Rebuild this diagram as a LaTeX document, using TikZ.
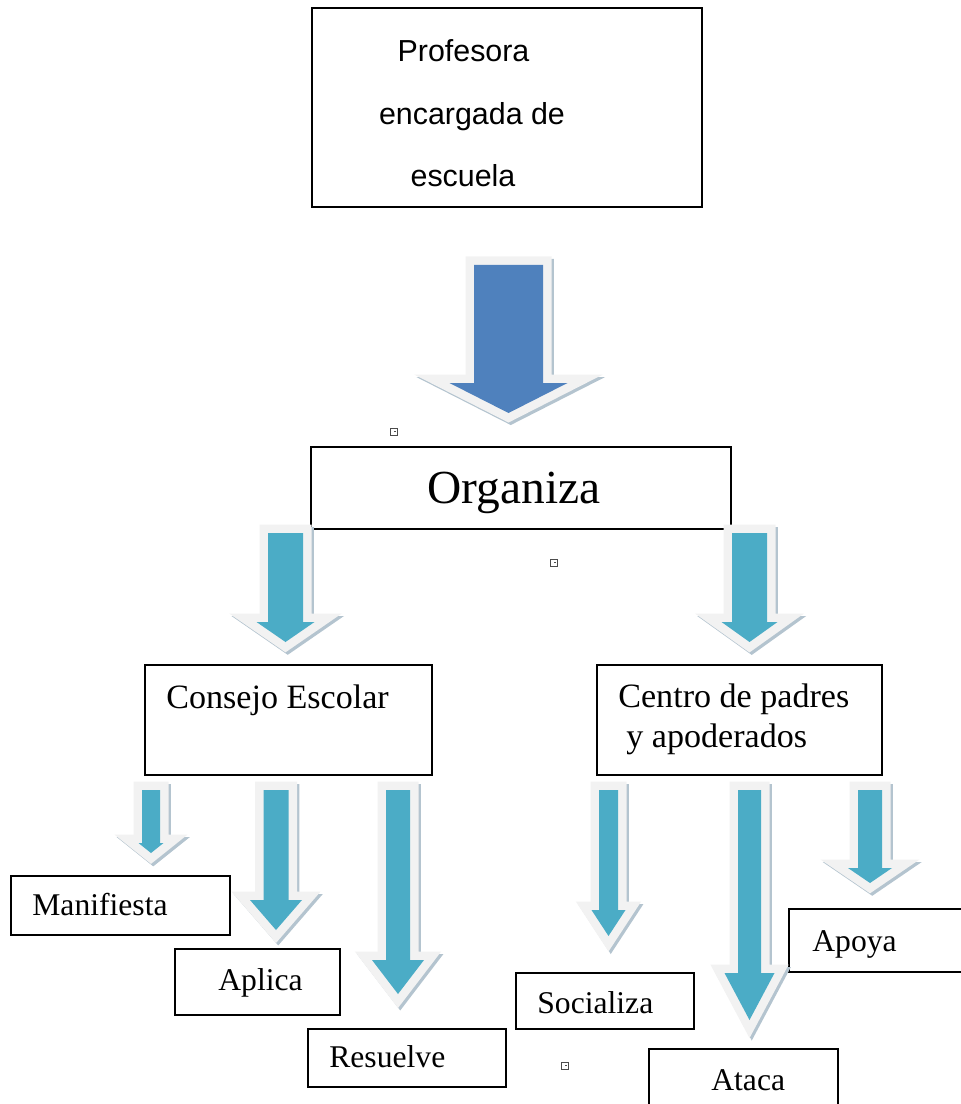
\documentclass[tikz,border=0pt]{standalone}
\usepackage{fontspec}
\setmainfont{Liberation Serif}
\newfontfamily\arialfont{Liberation Sans}
\usepackage{xcolor}
\usepackage{tikz}
\usetikzlibrary{positioning,calc,fit}

\definecolor{bigblue}{HTML}{4F81BD}
\definecolor{tealblue}{HTML}{4BACC6}
\definecolor{rimgray}{HTML}{F2F2F2}
\definecolor{shadowc}{HTML}{B4C4CF}

% block arrow: centre x, top y, shaft half width, head y, head half width, tip y, colour
\newcommand{\blockarrow}[7]{%
  \path[fill=#7,
    preaction={draw=shadowc, fill=shadowc, line width=0.34cm, line join=miter,
      transform canvas={shift={(0.045cm,-0.05cm)}}},
    preaction={draw=rimgray, line width=0.34cm, line join=miter}]
    (#1-#3,#2) -- (#1+#3,#2) -- (#1+#3,#4) -- (#1+#5,#4) -- (#1,#6)
    -- (#1-#5,#4) -- (#1-#3,#4) -- cycle;
}

\begin{document}
\begin{tikzpicture}[
    x=0.02cm, y=-0.02cm,
    box/.style={rectangle, draw, line width=1.2pt, inner sep=0pt},
    lbl/.style={inner sep=0pt, anchor=base west, font=\fontsize{18pt}{21pt}\selectfont},
    midlbl/.style={inner sep=0pt, anchor=base west, font=\fontsize{19.4pt}{23pt}\selectfont},
    toplbl/.style={inner sep=0pt, anchor=base, font=\arialfont\fontsize{17.3pt}{20pt}\selectfont},
    marker/.style={rectangle, draw=black!70, line width=0.4pt, minimum size=0.13cm, inner sep=0pt,
      path picture={\fill[black!70] (path picture bounding box.center) rectangle ++(0.03cm,0.015cm);}}
]
\useasboundingbox (0,0) rectangle (960,1104);

% boxes
\node[box, fit={(312,8) (702,207)}] (profesora) {};
\node[box, fit={(311,447) (731,529)}] (organiza) {};
\node[box, fit={(145,665) (432,775)}] (consejo) {};
\node[box, fit={(597,665) (882,775)}] (centro) {};
\node[box, fit={(11,876) (230,935)}] (manifiesta) {};
\node[box, fit={(175,949) (340,1015)}] (aplica) {};
\node[box, fit={(308,1029) (506,1087)}] (resuelve) {};
\node[box, fit={(516,973) (694,1029)}] (socializa) {};
\node[box, fit={(789,909) (964,972)}] (apoya) {};
\node[box, fit={(649,1049) (838,1110)}] (ataca) {};

% texts
\node[toplbl] (t1) at (463.5,62) {Profesora};
\node[toplbl] (t2) at (472,125) {encargada de};
\node[toplbl] (t3) at (463,187) {escuela};
\node[inner sep=0pt, anchor=base, font=\fontsize{27pt}{32pt}\selectfont] (t4) at (514,503) {Organiza};
\node[midlbl] (t5) at (166,708) {Consejo Escolar};
\node[midlbl] (t6) at (618,707) {Centro de padres};
\node[midlbl] (t7) at (626,747) {y apoderados};
\node[lbl] (t8) at (32,915) {Manifiesta};
\node[lbl] (t9) at (218,990) {Aplica};
\node[lbl] (t10) at (329,1067) {Resuelve};
\node[lbl] (t11) at (537,1013) {Socializa};
\node[lbl] (t12) at (812,951) {Apoya};
\node[lbl] (t13) at (711,1090) {Ataca};

% block arrows
\blockarrow{508.5}{265}{34.5}{383}{59}{413}{bigblue}
\blockarrow{285.5}{533}{17.5}{622}{29}{642}{tealblue}
\blockarrow{749.5}{533}{17.5}{622}{28}{642}{tealblue}
\blockarrow{151}{790}{9}{843}{12.5}{853}{tealblue}
\blockarrow{276}{790}{12.5}{900}{26}{930}{tealblue}
\blockarrow{398}{790}{12}{960}{26}{994}{tealblue}
\blockarrow{608.5}{790}{9.5}{910}{17}{936}{tealblue}
\blockarrow{749.5}{790}{11.5}{973}{25}{1020}{tealblue}
\blockarrow{870}{790}{12}{868}{22}{883}{tealblue}

% anchor marks
\node[marker] (m1) at (394,432) {};
\node[marker] (m2) at (554,563) {};
\node[marker] (m3) at (565,1066) {};
\end{tikzpicture}
\end{document}
